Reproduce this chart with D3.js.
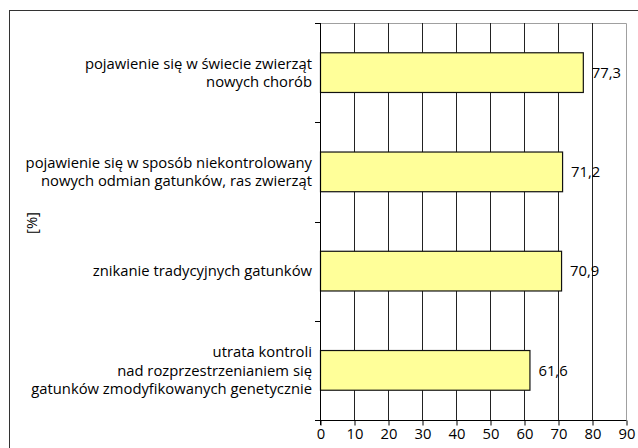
<!DOCTYPE html>
<html><head><meta charset="utf-8">
<script src="https://cdn.jsdelivr.net/npm/d3@7"></script>
<style>body{margin:0;background:#fff}svg{display:block}text{font-family:"Open Sans",sans-serif;fill:#000}</style>
</head><body>
<script>
const categories = [
  ["pojawienie się w świecie zwierząt", "nowych chorób"],
  ["pojawienie się w sposób niekontrolowany", "nowych odmian gatunków, ras zwierząt"],
  ["znikanie tradycyjnych gatunków"],
  ["utrata kontroli", "nad rozprzestrzenianiem się", "gatunków zmodyfikowanych genetycznie"]
];
const values = [77.3, 71.2, 70.9, 61.6];
const valueLabels = ["77,3", "71,2", "70,9", "61,6"];
const xTicks = [0, 10, 20, 30, 40, 50, 60, 70, 80, 90];
const axisTitle = "[%]";

(function () {
const W = 638, H = 448, FS = 14.8;
const pL = 320, pR = 626, pT = 23, pB = 420;
const svg = d3.select("body").append("svg").attr("width", W).attr("height", H);

// outer frame
svg.append("rect").attr("x", 9.5).attr("y", 10.5).attr("width", 800).attr("height", 600)
  .attr("fill", "none").attr("stroke", "#333").attr("stroke-width", 1);

const x = d3.scaleLinear().domain([0, 90]).range([pL, pR]);
const y = d3.scaleBand().domain(d3.range(categories.length)).range([pT, pB]).paddingInner(0).paddingOuter(0);
const barH = y.bandwidth() * 0.4;

// plot border (top & right)
svg.append("path").attr("d", `M${pL},${pT + 0.5}H${pR + 0.5}V${pB}`)
  .attr("fill", "none").attr("stroke", "#a0a0a0");

// gridlines
svg.append("g").selectAll("line").data(xTicks.filter(t => t > 0 && t < 90)).join("line")
  .attr("x1", d => Math.round(x(d)) + 0.5).attr("x2", d => Math.round(x(d)) + 0.5)
  .attr("y1", pT).attr("y2", pB).attr("stroke", "#222");

// bars
svg.append("g").selectAll("rect").data(values).join("rect")
  .attr("x", x(0) + 0.5)
  .attr("y", (d, i) => y(i) + (y.bandwidth() - barH) / 2)
  .attr("width", d => x(d) - x(0))
  .attr("height", barH)
  .attr("fill", "#ffff99").attr("stroke", "#111").attr("stroke-width", 1.2);

// value labels
svg.append("g").selectAll("text").data(values).join("text")
  .attr("x", d => x(d) + 9)
  .attr("y", (d, i) => y(i) + y.bandwidth() / 2)
  .attr("dy", "0.35em").attr("font-size", FS)
  .text((d, i) => valueLabels[i]);

// x axis
const xAxis = d3.axisBottom(x).tickValues(xTicks).tickSize(5).tickPadding(3).tickFormat(d3.format("d"));
const gx = svg.append("g").attr("transform", `translate(0.5,${pB + 0.5})`).call(xAxis);
gx.select(".domain").attr("stroke", "#000").attr("d", `M${pL},0H${pR}`);
gx.selectAll(".tick line").attr("stroke", "#000");
gx.selectAll(".tick text").attr("font-size", FS).attr("font-family", "Open Sans").attr("fill", "#000");

// y axis line + category separator ticks
svg.append("line").attr("x1", pL + 0.5).attr("x2", pL + 0.5).attr("y1", pT).attr("y2", pB + 5).attr("stroke", "#000");
const sepTicks = d3.range(categories.length + 1).map(i => pT + i * y.step());
svg.append("g").selectAll("line").data(sepTicks).join("line")
  .attr("x1", pL - 5).attr("x2", pL).attr("y1", d => Math.round(d) + 0.5).attr("y2", d => Math.round(d) + 0.5)
  .attr("stroke", "#000");

// category labels
const lh = 18.5;
const cg = svg.append("g").selectAll("text").data(categories).join("text")
  .attr("text-anchor", "end").attr("font-size", FS)
  .attr("transform", (d, i) => `translate(${pL - 8},${y(i) + y.bandwidth() / 2})`);
cg.selectAll("tspan").data(d => d.map((t, j) => ({t, j, n: d.length}))).join("tspan")
  .attr("x", 0)
  .attr("y", d => (d.j - (d.n - 1) / 2) * lh)
  .attr("dy", "0.35em")
  .text(d => d.t);

// axis title
svg.append("text").attr("transform", "translate(32,223) rotate(-90)")
  .attr("text-anchor", "middle").attr("dy", "0.35em").attr("font-size", FS).text(axisTitle);
})();
</script>
</body></html>
